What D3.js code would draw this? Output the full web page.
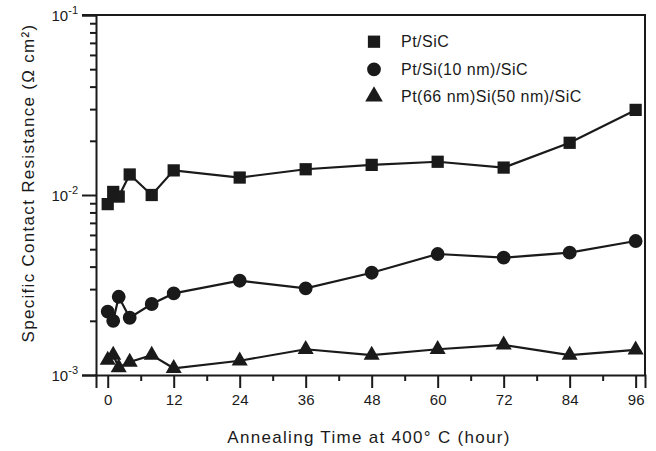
<!DOCTYPE html>
<html>
<head>
<meta charset="utf-8">
<script src="https://cdn.jsdelivr.net/npm/d3@7"></script>
<style>
  body { margin: 0; background: #fff; }
  text { font-family: "Liberation Sans", Arial, sans-serif; fill: #1a1a1a; }
</style>
</head>
<body>
<script>
var w = 656;
var h = 451;

// annealing time (hour)
var hours = [0, 1, 2, 4, 8, 12, 24, 36, 48, 60, 72, 84, 96];
var ptSiC = [0.0089, 0.0104, 0.0098, 0.0130, 0.0100, 0.0137, 0.0125, 0.0139, 0.0147, 0.0153, 0.0142, 0.0195, 0.0297];
var ptSi10 = [0.00225, 0.00200, 0.00272, 0.00208, 0.00248, 0.00284, 0.00334, 0.00303, 0.00370, 0.00470, 0.00449, 0.00478, 0.00555];
var ptSi50 = [0.00121, 0.00129, 0.00110, 0.00118, 0.00129, 0.00109, 0.00120, 0.00139, 0.00129, 0.00139, 0.00147, 0.00129, 0.00138];

var seriesNames = ["Pt/SiC", "Pt/Si(10 nm)/SiC", "Pt(66 nm)Si(50 nm)/SiC"];
var xTicks = [0, 12, 24, 36, 48, 60, 72, 84, 96];
var xMinorTicks = [6, 18, 30, 42, 54, 66, 78, 90];
var yTicks = [1e-3, 1e-2, 1e-1];
var yTickExp = ["-3", "-2", "-1"];
var yMinorTicks = [2e-3, 3e-3, 4e-3, 5e-3, 6e-3, 7e-3, 8e-3, 9e-3,
                   2e-2, 3e-2, 4e-2, 5e-2, 6e-2, 7e-2, 8e-2, 9e-2];

var padLeft = 96, padRight = 645, padTop = 15, padBottom = 375;
var ink = "#1a1a1a";

var xScale = d3.scaleLinear()
    .domain([-2.13, 97.7])
    .range([padLeft, padRight]);

var yScale = d3.scaleLog()
    .domain([1e-3, 1e-1])
    .range([padBottom, padTop]);

var svg = d3.select("body")
    .append("svg")
    .attr("width", w)
    .attr("height", h);

// x axis, major and minor ticks
var xAxis = d3.axisBottom(xScale)
    .tickValues(xTicks)
    .tickSize(13)
    .tickPadding(6)
    .tickFormat(d3.format("d"));

var gx = svg.append("g")
    .attr("transform", "translate(0," + padBottom + ")")
    .call(xAxis);

svg.append("g")
    .attr("transform", "translate(0," + padBottom + ")")
    .call(d3.axisBottom(xScale).tickValues(xMinorTicks).tickSize(6).tickFormat(""))
    .select(".domain").remove();

// y axis
var yAxis = d3.axisLeft(yScale)
    .tickValues(yTicks)
    .tickSize(14)
    .tickFormat("");

var gy = svg.append("g")
    .attr("transform", "translate(" + padLeft + ",0)")
    .call(yAxis);

svg.append("g")
    .attr("transform", "translate(" + padLeft + ",0)")
    .call(d3.axisLeft(yScale).tickValues(yMinorTicks).tickSize(6).tickFormat(""))
    .select(".domain").remove();

svg.selectAll(".domain").attr("stroke", ink).attr("stroke-width", 2);
svg.selectAll(".tick line").attr("stroke", ink).attr("stroke-width", 2);
gx.selectAll(".tick text")
    .attr("font-size", 15)
    .attr("fill", ink)
    .attr("font-family", "Liberation Sans, Arial, sans-serif");

// y tick labels 10^n
var ylab = svg.selectAll(".ylab")
    .data(yTicks)
    .enter()
    .append("text")
    .attr("class", "ylab")
    .attr("text-anchor", "end")
    .attr("x", 78)
    .attr("y", function(d) { return yScale(d) + 6; })
    .attr("font-size", 15);
ylab.append("tspan").text("10");
ylab.append("tspan")
    .attr("font-size", 11)
    .attr("dy", -7)
    .text(function(d, i) { return yTickExp[i]; });

// frame top and right
svg.append("line")
    .attr("x1", padLeft - 14).attr("x2", padRight + 1)
    .attr("y1", padTop).attr("y2", padTop)
    .attr("stroke", ink).attr("stroke-width", 2);
svg.append("line")
    .attr("x1", padRight).attr("x2", padRight)
    .attr("y1", padTop).attr("y2", padBottom)
    .attr("stroke", ink).attr("stroke-width", 2);

// series
var allSeries = [ptSiC, ptSi10, ptSi50];
var symbols = [d3.symbolSquare, d3.symbolCircle, d3.symbolTriangle];
var sizes = [150, 150, 112];

var line = d3.line()
    .x(function(d) { return xScale(d[0]); })
    .y(function(d) { return yScale(d[1]); });

allSeries.forEach(function(vals, s) {
    var pts = hours.map(function(t, i) { return [t, vals[i]]; });
    svg.append("path")
        .datum(pts)
        .attr("d", line)
        .attr("fill", "none")
        .attr("stroke", ink)
        .attr("stroke-width", 2.2);
    svg.selectAll(".m" + s)
        .data(pts)
        .enter()
        .append("path")
        .attr("class", "m" + s)
        .attr("d", d3.symbol().type(symbols[s]).size(sizes[s]))
        .attr("transform", function(d) {
            return "translate(" + xScale(d[0]) + "," + yScale(d[1]) + ")";
        })
        .attr("fill", ink);
});

// legend
var legendY = [41.7, 69.3, 96.5];
seriesNames.forEach(function(name, s) {
    svg.append("path")
        .attr("d", d3.symbol().type(symbols[s]).size(sizes[s] * (s === 2 ? 1.2 : 1))())
        .attr("transform", "translate(374," + legendY[s] + ")")
        .attr("fill", ink);
    svg.append("text")
        .attr("x", 401)
        .attr("y", legendY[s] + 5.5)
        .attr("font-size", 16)
        .attr("letter-spacing", 0.5)
        .text(name);
});

// axis titles
svg.append("text")
    .attr("text-anchor", "middle")
    .attr("x", 369)
    .attr("y", 443)
    .attr("font-size", 17)
    .attr("letter-spacing", 1.3)
    .text("Annealing Time at 400\u00b0 C (hour)");

svg.append("text")
    .attr("text-anchor", "middle")
    .attr("transform", "translate(34,183) rotate(-90)")
    .attr("font-size", 17)
    .attr("letter-spacing", 1.3)
    .text("Specific Contact Resistance (\u03a9 cm\u00b2)");
</script>
</body>
</html>
